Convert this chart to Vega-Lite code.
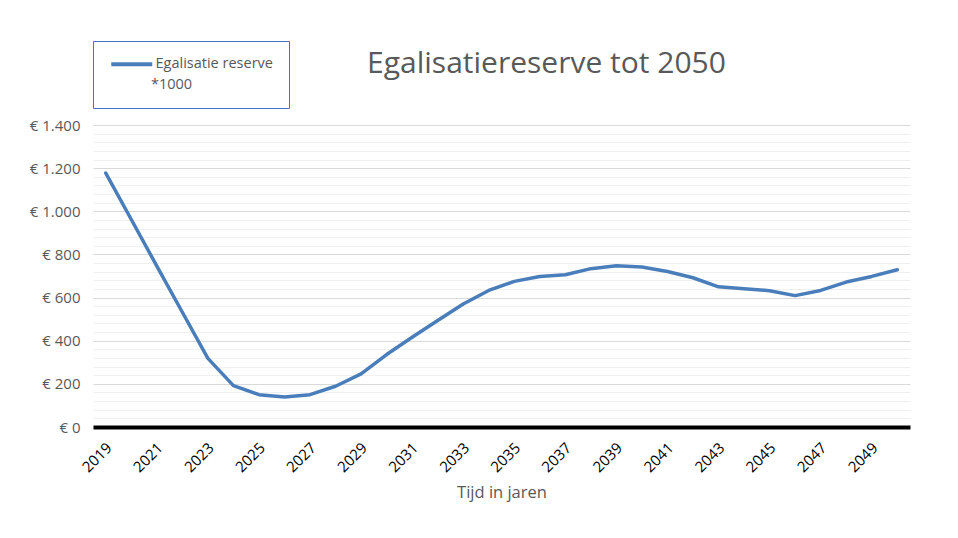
{
  "$schema": "https://vega.github.io/schema/vega-lite/v6.json",
  "width": 817,
  "height": 302,
  "autosize": {"type": "none"},
  "padding": {"left": 93, "top": 125, "right": 48, "bottom": 111},
  "background": "white",
  "config": {"view": {"stroke": null}, "font": "Open Sans"},
  "title": {
    "text": "Egalisatiereserve tot 2050",
    "fontSize": 30,
    "font": "Open Sans",
    "fontWeight": "normal",
    "color": "#595959",
    "anchor": "middle",
    "frame": "group",
    "dx": 45,
    "offset": -62,
    "baseline": "alphabetic"
  },
  "data": {
    "values": [
      {"year": 2019, "value": 1177, "series": "Egalisatie reserve"},
      {"year": 2020, "value": 962, "series": "Egalisatie reserve"},
      {"year": 2021, "value": 746, "series": "Egalisatie reserve"},
      {"year": 2022, "value": 532, "series": "Egalisatie reserve"},
      {"year": 2023, "value": 318, "series": "Egalisatie reserve"},
      {"year": 2024, "value": 192, "series": "Egalisatie reserve"},
      {"year": 2025, "value": 150, "series": "Egalisatie reserve"},
      {"year": 2026, "value": 139, "series": "Egalisatie reserve"},
      {"year": 2027, "value": 150, "series": "Egalisatie reserve"},
      {"year": 2028, "value": 189, "series": "Egalisatie reserve"},
      {"year": 2029, "value": 246, "series": "Egalisatie reserve"},
      {"year": 2030, "value": 336, "series": "Egalisatie reserve"},
      {"year": 2031, "value": 416, "series": "Egalisatie reserve"},
      {"year": 2032, "value": 494, "series": "Egalisatie reserve"},
      {"year": 2033, "value": 570, "series": "Egalisatie reserve"},
      {"year": 2034, "value": 633, "series": "Egalisatie reserve"},
      {"year": 2035, "value": 675, "series": "Egalisatie reserve"},
      {"year": 2036, "value": 698, "series": "Egalisatie reserve"},
      {"year": 2037, "value": 706, "series": "Egalisatie reserve"},
      {"year": 2038, "value": 734, "series": "Egalisatie reserve"},
      {"year": 2039, "value": 748, "series": "Egalisatie reserve"},
      {"year": 2040, "value": 742, "series": "Egalisatie reserve"},
      {"year": 2041, "value": 721, "series": "Egalisatie reserve"},
      {"year": 2042, "value": 692, "series": "Egalisatie reserve"},
      {"year": 2043, "value": 650, "series": "Egalisatie reserve"},
      {"year": 2044, "value": 641, "series": "Egalisatie reserve"},
      {"year": 2045, "value": 632, "series": "Egalisatie reserve"},
      {"year": 2046, "value": 609, "series": "Egalisatie reserve"},
      {"year": 2047, "value": 633, "series": "Egalisatie reserve"},
      {"year": 2048, "value": 672, "series": "Egalisatie reserve"},
      {"year": 2049, "value": 698, "series": "Egalisatie reserve"},
      {"year": 2050, "value": 729, "series": "Egalisatie reserve"}
    ]
  },
  "mark": {"type": "line", "strokeWidth": 3.5, "strokeCap": "round", "strokeJoin": "round"},
  "encoding": {
    "x": {
      "field": "year",
      "type": "ordinal",
      "scale": {"padding": 0.5},
      "axis": {
        "values": [2019, 2021, 2023, 2025, 2027, 2029, 2031, 2033, 2035, 2037, 2039, 2041, 2043, 2045, 2047, 2049],
        "labelAngle": -45,
        "labelAlign": "right",
        "labelBaseline": "middle",
        "labelPadding": 18,
        "labelOffset": 3,
        "labelFontSize": 15,
        "labelColor": "black",
        "labelFont": "Open Sans",
        "ticks": false,
        "domain": true,
        "domainColor": "black",
        "domainWidth": 4,
        "grid": false,
        "title": "Tijd in jaren",
        "titleFont": "Open Sans",
        "titleFontSize": 16.5,
        "titleFontWeight": "normal",
        "titleColor": "#595959",
        "titlePadding": 10
      }
    },
    "y": {
      "field": "value",
      "type": "quantitative",
      "scale": {"domain": [0, 1400], "nice": false},
      "axis": {
        "values": [0, 40, 80, 120, 160, 200, 240, 280, 320, 360, 400, 440, 480, 520, 560, 600, 640, 680, 720, 760, 800, 840, 880, 920, 960, 1000, 1040, 1080, 1120, 1160, 1200, 1240, 1280, 1320, 1360, 1400],
        "labelExpr": "datum.value % 200 === 0 ? '€ ' + replace(format(datum.value, ','), ',', '.') : ''",
        "labelOverlap": false,
        "grid": true,
        "gridColor": {"condition": {"test": "datum.value % 200 === 0", "value": "#d9d9d9"}, "value": "#f0f0f0"},
        "gridWidth": 1,
        "domain": false,
        "ticks": false,
        "labelPadding": 13,
        "labelFontSize": 15,
        "labelColor": "#595959",
        "labelFont": "Open Sans",
        "title": null
      }
    },
    "color": {
      "field": "series",
      "type": "nominal",
      "scale": {"range": ["#4a7ebb"]},
      "legend": {
        "title": "*1000",
        "titleOrient": "bottom",
        "titleAnchor": "start",
        "titleFont": "Open Sans",
        "titleFontSize": 14.5,
        "titleFontWeight": "normal",
        "titleColor": "#595959",
        "titlePadding": 6,
        "orient": "none",
        "legendX": 0,
        "legendY": -84,
        "padding": 16,
        "strokeColor": "#4472c4",
        "fillColor": "white",
        "symbolType": "M-1,0H7.2",
        "symbolSize": 100,
        "symbolStrokeWidth": 4,
        "symbolStrokeColor": "#4a7ebb",
        "labelOffset": 32,
        "labelFont": "Open Sans",
        "labelFontSize": 14.5,
        "labelColor": "#595959",
        "labelLimit": 300,
        "encode": {"title": {"update": {"dx": {"value": 42}}}}
      }
    }
  }
}
